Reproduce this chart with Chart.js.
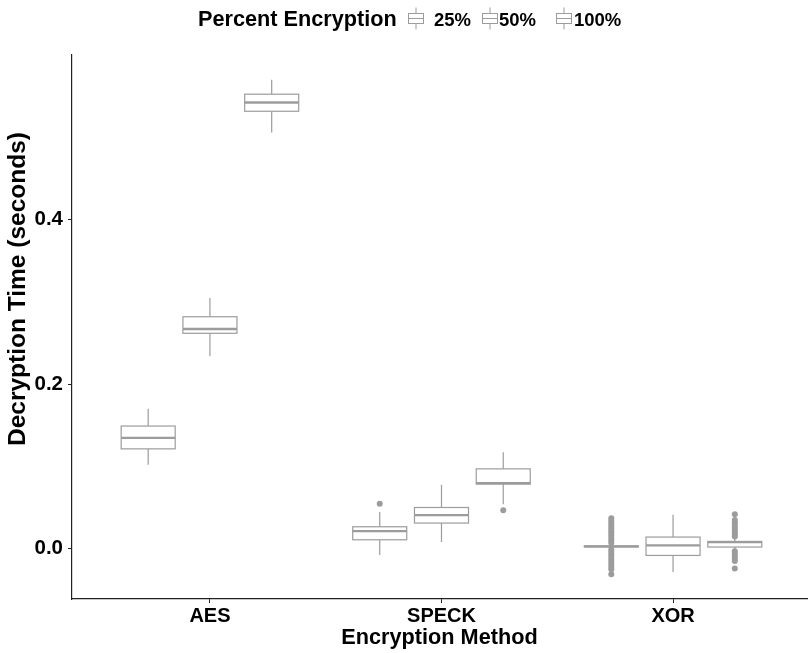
<!DOCTYPE html>
<html>
<head>
<meta charset="utf-8">
<script src="https://cdn.jsdelivr.net/npm/chart.js@4.4.1/dist/chart.umd.min.js"></script>
<style>
  html, body { margin: 0; padding: 0; background: #ffffff; }
  canvas { display: block; }
</style>
</head>
<body>
<canvas id="chart" width="810" height="653"></canvas>
<script>
// Categories and series
const methods = ['AES', 'SPECK', 'XOR'];
const percents = ['25%', '50%', '100%'];
const yTicks = [0, 0.2, 0.4];

// Five-number summaries per method: [lower whisker, Q1, median, Q3, upper whisker]
const box25 = [
  [0.102, 0.1213, 0.1346, 0.149, 0.170],
  [-0.0075, 0.0109, 0.0215, 0.0267, 0.0445],
  [0.0022, 0.0022, 0.0028, 0.0034, 0.0034]
];
const box50 = [
  [0.234, 0.2616, 0.2668, 0.2817, 0.3044],
  [0.0081, 0.0312, 0.0409, 0.0501, 0.0776],
  [-0.0283, -0.0081, 0.004, 0.0142, 0.0412]
];
const box100 = [
  [0.5054, 0.5312, 0.5418, 0.5519, 0.5695],
  [0.054, 0.0785, 0.0797, 0.097, 0.1173],
  [-0.001, 0.0021, 0.0081, 0.0089, 0.012]
];

// Outlying runs per method
const out25 = [
  [],
  [0.0546],
  [0.037, 0.034, 0.031, 0.028, 0.025, 0.022, 0.019, 0.016, 0.013, 0.010, 0.007,
   -0.001, -0.004, -0.007, -0.010, -0.013, -0.016, -0.019, -0.022, -0.025, -0.031]
];
const out50 = [[], [], []];
const out100 = [
  [],
  [0.0469],
  [0.042, 0.035, 0.032, 0.029, 0.026, 0.023, 0.020, 0.017, 0.015,
   -0.003, -0.006, -0.009, -0.012, -0.015, -0.024]
];

const boxSeries = [box25, box50, box100];
const outSeries = [out25, out50, out100];

// Dodge layout inside each method slot (in category units)
const dodge = [-0.2667, 0, 0.2667];
const boxWidth = 0.2333;
const grey = '#9c9c9c';
const fontFamily = '"Liberation Sans", Arial, Helvetica, sans-serif';

const outlierSets = percents.map((p, s) => ({
  label: p,
  data: outSeries[s].flatMap((vals, m) => vals.map(v => ({ x: m + dodge[s], y: v }))),
  pointRadius: 3,
  pointHoverRadius: 3,
  pointBackgroundColor: grey,
  pointBorderWidth: 0,
  showLine: false
}));

// Box, median and whisker drawing through the chart's own scales
const boxPlot = {
  id: 'boxPlot',
  afterDatasetsDraw(chart) {
    const { ctx, scales: { x, y } } = chart;
    const half = (x.getPixelForValue(boxWidth) - x.getPixelForValue(0)) / 2;
    ctx.save();
    ctx.strokeStyle = grey;
    boxSeries.forEach((series, s) => {
      series.forEach((b, m) => {
        const cx = x.getPixelForValue(m + dodge[s]);
        const [lo, q1, med, q3, hi] = b.map(v => y.getPixelForValue(v));
        ctx.lineWidth = 1.2;
        ctx.beginPath();
        ctx.moveTo(cx, hi); ctx.lineTo(cx, q3);
        ctx.moveTo(cx, q1); ctx.lineTo(cx, lo);
        ctx.stroke();
        ctx.fillStyle = '#ffffff';
        ctx.fillRect(cx - half, q3, 2 * half, q1 - q3);
        ctx.strokeRect(cx - half, q3, 2 * half, q1 - q3);
        ctx.lineWidth = 2.3;
        ctx.beginPath();
        ctx.moveTo(cx - half, med); ctx.lineTo(cx + half, med);
        ctx.stroke();
      });
    });
    ctx.restore();
  }
};

// Vertical axis title, set a little above the panel centre
const yTitle = {
  id: 'yTitle',
  afterDraw(chart) {
    const { ctx } = chart;
    ctx.save();
    ctx.translate(18, 289);
    ctx.rotate(-Math.PI / 2);
    ctx.fillStyle = '#000000';
    ctx.font = 'bold 24.5px ' + fontFamily;
    ctx.textAlign = 'center';
    ctx.textBaseline = 'middle';
    ctx.fillText('Decryption Time (seconds)', 0, 0);
    ctx.restore();
  }
};

// Legend row: title, then a box glyph and label per series
const legendRow = {
  id: 'legendRow',
  afterDraw(chart) {
    const { ctx } = chart;
    const baseline = 26;
    ctx.save();
    ctx.fillStyle = '#000000';
    ctx.textBaseline = 'alphabetic';
    ctx.textAlign = 'left';
    ctx.font = 'bold 21.7px ' + fontFamily;
    ctx.fillText('Percent Encryption', 198, baseline);
    const glyphX = [408, 482, 556];
    const labelX = [434, 499, 574];
    percents.forEach((p, i) => {
      const gx = glyphX[i] + 0.5;
      ctx.strokeStyle = grey;
      ctx.lineWidth = 1;
      ctx.beginPath();
      ctx.moveTo(gx + 7.5, 7.5); ctx.lineTo(gx + 7.5, 13.5);
      ctx.moveTo(gx + 7.5, 23.5); ctx.lineTo(gx + 7.5, 29.5);
      ctx.moveTo(gx, 18.5); ctx.lineTo(gx + 15, 18.5);
      ctx.stroke();
      ctx.strokeRect(gx, 13.5, 15, 10);
      ctx.fillStyle = '#000000';
      ctx.font = 'bold 18.5px ' + fontFamily;
      ctx.fillText(p, labelX[i], baseline);
    });
    ctx.restore();
  }
};

new Chart(document.getElementById('chart'), {
  type: 'scatter',
  data: { datasets: outlierSets },
  plugins: [boxPlot, yTitle, legendRow],
  options: {
    responsive: false,
    animation: false,
    devicePixelRatio: 1,
    layout: { padding: { top: 55, right: 0, bottom: 0, left: 0 } },
    plugins: {
      legend: { display: false },
      tooltip: { enabled: false },
      title: { display: false }
    },
    scales: {
      x: {
        type: 'linear',
        min: -0.5957,
        max: 2.5785,
        afterBuildTicks: (scale) => { scale.ticks = methods.map((m, i) => ({ value: i })); },
        afterFit: (scale) => { scale.height = 54; },
        ticks: {
          callback: (v) => methods[v],
          color: '#000000',
          font: { family: fontFamily, size: 20, weight: 'bold' },
          padding: 1,
          maxRotation: 0,
          autoSkip: false
        },
        grid: { drawOnChartArea: false, drawTicks: true, tickLength: 4, color: '#222222', tickWidth: 1 },
        border: { display: true, color: '#222222', width: 1.2 },
        title: {
          display: true,
          text: 'Encryption Method',
          color: '#000000',
          font: { family: fontFamily, size: 21.7, weight: 'bold' },
          padding: { top: 0, bottom: 2 }
        }
      },
      y: {
        type: 'linear',
        min: -0.061,
        max: 0.5995,
        afterBuildTicks: (scale) => { scale.ticks = yTicks.map(v => ({ value: v })); },
        afterFit: (scale) => { scale.width = 72; },
        ticks: {
          callback: (v) => v.toFixed(1),
          color: '#000000',
          font: { family: fontFamily, size: 20.5, weight: 'bold' },
          padding: 5
        },
        grid: { drawOnChartArea: false, drawTicks: true, tickLength: 4, color: '#222222', tickWidth: 1 },
        border: { display: true, color: '#222222', width: 1.2 },
        title: { display: false }
      }
    }
  }
});
</script>
</body>
</html>
